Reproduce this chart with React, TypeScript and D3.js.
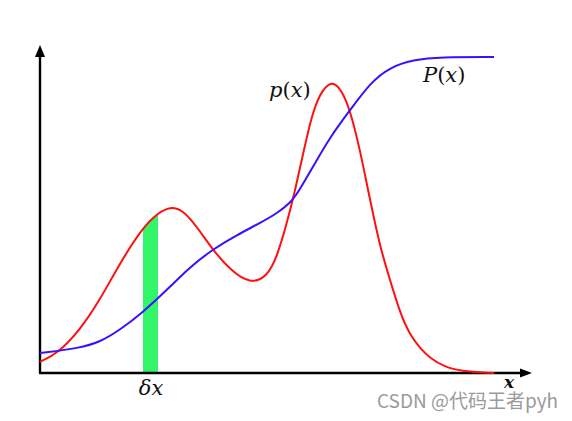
import * as d3 from "d3";

// p(x) density
const pdfX = [0, 0.4, 0.88, 1.32, 1.76, 2.27, 2.6, 2.86, 3.15, 3.46, 3.81, 4.19, 4.63, 5.0, 5.22, 5.44, 5.62, 5.79, 6.01, 6.23, 6.45, 6.65, 6.83, 7.05, 7.27, 7.49, 7.71, 7.93, 8.15, 8.37, 8.59, 8.92, 9.25, 10];
const pdfY = [0.035, 0.063, 0.136, 0.231, 0.348, 0.462, 0.506, 0.527, 0.516, 0.462, 0.389, 0.326, 0.282, 0.304, 0.367, 0.475, 0.579, 0.69, 0.832, 0.9, 0.925, 0.893, 0.832, 0.706, 0.547, 0.399, 0.294, 0.19, 0.12, 0.079, 0.047, 0.019, 0.006, 0];

// P(x) cumulative
const cdfX = [0, 0.88, 1.32, 1.76, 2.27, 2.6, 2.86, 3.3, 3.81, 4.34, 4.85, 5.22, 5.51, 5.68, 6.01, 6.39, 6.83, 7.27, 7.71, 8.22, 8.81, 10];
const cdfY = [0.063, 0.079, 0.098, 0.136, 0.193, 0.237, 0.272, 0.335, 0.392, 0.437, 0.475, 0.505, 0.538, 0.57, 0.652, 0.747, 0.832, 0.918, 0.968, 0.991, 1.0, 1.0];

// the delta-x strip
const deltaBand = [2.27, 2.6];

const width = 572;
const height = 421;

export default function App() {
  const x = d3.scaleLinear().domain([0, 10]).range([40, 494]);
  const y = d3.scaleLinear().domain([0, 1]).range([373, 57]);

  const pdf = pdfX.map((d, i) => [d, pdfY[i]] as [number, number]);
  const cdf = cdfX.map((d, i) => [d, cdfY[i]] as [number, number]);

  const line = d3
    .line<[number, number]>()
    .x((d) => x(d[0]))
    .y((d) => y(d[1]))
    .curve(d3.curveBasis);

  const area = d3
    .area<[number, number]>()
    .x((d) => x(d[0]))
    .y0(y(0))
    .y1((d) => y(d[1]))
    .curve(d3.curveBasis);

  const x0 = x.range()[0];
  const yBase = y(0);

  return (
    <svg
      width={width}
      height={height}
      style={{ position: "absolute", left: 0, top: 0, background: "#fff" }}
    >
      <defs>
        <clipPath id="band">
          <rect
            x={x(deltaBand[0])}
            y={0}
            width={x(deltaBand[1]) - x(deltaBand[0])}
            height={yBase}
          />
        </clipPath>
      </defs>

      {/* green strip under p(x) */}
      <path d={area(pdf)!} fill="#33f56a" clipPath="url(#band)" />

      {/* axes */}
      <g stroke="#000" strokeWidth={2.4} fill="none">
        <line x1={x0} y1={yBase} x2={x0} y2={56} />
        <line x1={x0 - 1} y1={yBase} x2={521} y2={yBase} />
      </g>
      <path d={`M${x0},45 L${x0 + 5},57 L${x0 - 5},57 Z`} fill="#000" />
      <path d={`M532,${yBase} L520,${yBase - 4.5} L520,${yBase + 4.5} Z`} fill="#000" />

      {/* curves */}
      <path d={line(pdf)!} fill="none" stroke="#ff1010" strokeWidth={2} />
      <path d={line(cdf)!} fill="none" stroke="#3512ff" strokeWidth={2} />

      {/* labels */}
      <g fontFamily="'DejaVu Serif', 'Liberation Serif', serif" fontSize={21} fill="#111">
        <text x={269} y={97}>
          <tspan fontStyle="italic">p</tspan>(<tspan fontStyle="italic">x</tspan>)
        </text>
        <text x={423} y={82}>
          <tspan fontStyle="italic">P</tspan>(<tspan fontStyle="italic">x</tspan>)
        </text>
        <text x={151} y={395} textAnchor="middle" fontStyle="italic">
          δx
        </text>
        <text x={509} y={388} textAnchor="middle" fontStyle="italic" fontWeight="bold" fontSize={17}>
          x
        </text>
      </g>

      <text
        x={377}
        y={408}
        fontFamily="'Noto Sans CJK SC', 'Noto Sans', sans-serif"
        fontSize={19}
        fill="#9a9a9a"
      >
        CSDN @代码王者pyh
      </text>
    </svg>
  );
}
